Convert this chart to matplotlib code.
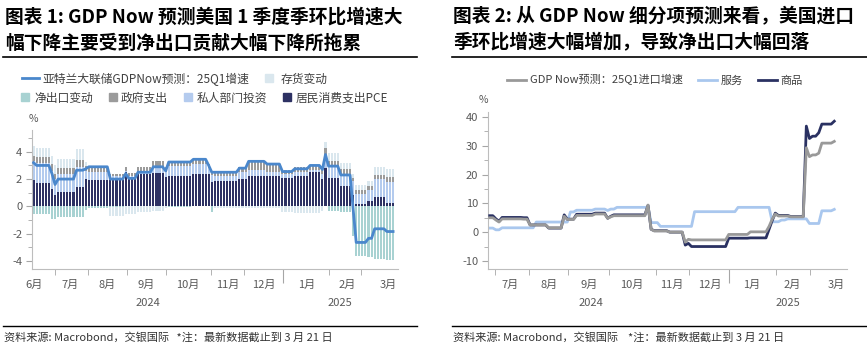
import matplotlib
matplotlib.use("Agg")
import matplotlib.pyplot as plt
from matplotlib.lines import Line2D
import numpy as np

plt.rcParams["font.family"] = ["Noto Sans CJK SC", "DejaVu Sans"]
plt.rcParams["axes.unicode_minus"] = False

# ---- 图表1：GDPNow 分项贡献（按更新段落，seg_len 为每段柱数）----
seg_len = [1, 5, 1, 1, 6, 3, 1, 7, 5, 1, 3, 5, 4, 1, 8, 5, 1, 1, 8, 3, 6, 5, 4, 5, 4, 1, 1, 4, 4, 1, 4, 2, 4, 3]
pce = [1.9, 1.7, 1.25, 0.8, 1.05, 1.45, 2.0, 1.95, 1.95, 2.5, 2.0, 2.4, 2.45, 2.15, 2.2, 2.4, 2.4, 1.8, 1.85, 2.0,
       2.2, 2.2, 2.1, 2.25, 2.55, 2.0, 2.8, 2.05, 1.5, 0.85, 0.15, 0.4, 0.7, 0.25]
priv = [1.4, 1.5, 1.35, 1.2, 1.3, 1.45, 0.6, 0.55, 0.25, 0.1, 0.2, 0.15, 0.5, 0.4, 0.75, 0.7, 0.4, 0.5, 0.35, 0.5,
        0.5, 0.35, 0.25, 0.3, 0.15, 0.35, 0.7, 0.9, 0.85, 1.0, 0.75, 0.8, 1.3, 1.55]
gov = [0.4, 0.4, 0.5, 0.4, 0.45, 0.5, 0.35, 0.35, 0.2, 0.3, 0.25, 0.35, 0.35, 0.3, 0.35, 0.4, 0.3, 0.3, 0.4, 0.35,
       0.6, 0.55, 0.3, 0.35, 0.35, 0.3, 0.8, 0.4, 0.4, 0.25, 0.3, 0.3, 0.3, 0.35]
netex = [-0.55, -0.55, -0.95, -0.95, -0.8, -0.75, -0.3, -0.1, -0.05, 0, 0, 0, 0, 0, -0.05, 0, 0, -0.45, 0, 0,
         0, 0, 0, 0, 0, 0, 0, -0.35, -0.4, -2.2, -3.65, -3.7, -3.9, -3.95]
inv = [0.7, 0.7, 0.6, 0.6, 0.7, 0.8, 0.3, 0.0, -0.65, -0.6, -0.6, -0.45, -0.35, -0.1, 0, 0, 0, 0, -0.15, -0.1,
       -0.1, -0.15, -0.4, -0.5, -0.5, -0.35, 0.4, 0.55, 0.4, 0.3, 0.35, 0.35, 0.6, 0.6]
gdpnow = [3.2, 3.0, 2.4, 1.6, 2.0, 2.65, 2.75, 2.9, 2.0, 2.4, 2.05, 2.5, 2.9, 2.6, 3.25, 3.45, 3.0, 2.5, 2.5, 2.8,
          3.3, 3.1, 2.55, 2.75, 3.0, 2.7, 3.8, 2.95, 2.3, -0.2, -2.65, -2.35, -1.65, -1.85]
months1 = ["6月", "7月", "8月", "9月", "10月", "11月", "12月", "1月", "2月", "3月"]

# ---- 图表2：进口增速（值, 连续期数）----
goods_val = [5.7, 4.6, 3.8, 5.1, 5.0, 2.5, 1.4, 6.0, 4.5, 6.2, 6.6, 4.8, 5.5, 6.0, 9.3, 1.0, 0.5, 0.0, -4.5, -3.9,
             -5.0, -2.1, -2.0, 1.0, 4.0, 6.6, 5.8, 5.4, 36.8, 32.5, 33.3, 34.5, 37.5, 38.5]
goods_len = [2, 1, 1, 7, 2, 6, 5, 1, 3, 6, 4, 1, 1, 11, 1, 1, 5, 5, 1, 1, 12, 7, 6, 1, 1, 1, 4, 5, 1, 1, 2, 1, 4, 1]
total_val = [5.0, 4.2, 3.5, 4.6, 4.5, 2.5, 1.5, 5.5, 4.4, 5.8, 6.3, 4.8, 5.3, 5.7, 9.4, 1.0, 0.4, 0.0, -3.5, -2.5,
             -2.7, -0.8, 0.1, 2.0, 4.5, 6.3, 5.6, 5.3, 29.3, 26.2, 26.8, 27.4, 30.9, 31.5]
total_len = goods_len
serv_val = [1.4, 0.8, 1.5, 3.5, 7.0, 7.6, 8.0, 7.5, 8.0, 8.6, 3.3, 2.0, 7.1, 8.6, 3.6, 4.2, 4.6, 3.0, 7.4, 7.9]
serv_len = [2, 2, 11, 11, 2, 6, 4, 1, 2, 11, 3, 11, 14, 11, 3, 2, 7, 4, 4, 1]
months2 = ["7月", "8月", "9月", "10月", "11月", "12月", "1月", "2月", "3月"]
years = ["2024", "2025"]

NAVY, LBLUE, GREY, TEAL, PALE, LINE = "#2d3163", "#b4cbee", "#9b9b9b", "#a8d2d2", "#dae7ee", "#4a87cc"
TXT = "#595959"

fig = plt.figure(figsize=(8.67, 3.62), dpi=100)
W, H = 867, 362


def fx(px): return px / W
def fy(py): return 1 - py / H


def style_axis(ax):
    for s in ["top", "right"]:
        ax.spines[s].set_visible(False)
    for s in ["left", "bottom"]:
        ax.spines[s].set_color("#bdbdbd")
        ax.spines[s].set_linewidth(0.8)
    ax.tick_params(axis="y", which="major", length=4, color="#a6a6a6", labelsize=8, labelcolor=TXT, pad=3)
    ax.tick_params(axis="y", which="minor", length=3, color="#a6a6a6")
    ax.tick_params(axis="x", which="minor", length=4, color="#a6a6a6", labelbottom=False)
    ax.tick_params(axis="x", which="major", length=10, color="#a6a6a6", labelbottom=False)


def month_labels(ax, pos, labels, ypos, yl):
    for p, m in zip(pos, labels):
        ax.annotate(m, (p, 0), xycoords=("data", "axes fraction"), xytext=(0, -11.5), textcoords="offset points",
                    ha="center", va="center", fontsize=8, color=TXT)
    for p, y in zip(ypos, yl):
        ax.annotate(y, (p, 0), xycoords=("data", "axes fraction"), xytext=(0, -24.5), textcoords="offset points",
                    ha="center", va="center", fontsize=8, color=TXT)


def fix_legend(leg):
    for t in leg.get_texts():
        t.set_color("#404040")


# ================= 左图 =================
ax1 = fig.add_axes([fx(32), fy(269), fx(398) - fx(32), fy(130) - fy(269)])
comps = [np.repeat(c, seg_len) for c in (pce, priv, gov, netex, inv)]
cols = [NAVY, LBLUE, GREY, TEAL, PALE]
x1 = np.arange(len(comps[0]))
pos_b = np.zeros(len(x1))
neg_b = np.zeros(len(x1))
for v, c in zip(comps, cols):
    b = np.where(v >= 0, pos_b, neg_b)
    ax1.bar(x1, v, bottom=b, width=0.68, color=c, linewidth=0, zorder=2)
    pos_b = pos_b + np.where(v > 0, v, 0)
    neg_b = neg_b + np.where(v < 0, v, 0)
ax1.plot(x1, np.repeat(gdpnow, seg_len), color=LINE, lw=2.0, zorder=3)
ax1.set_xlim(-0.5, 118.6)
ax1.set_ylim(-4.6, 5.6)
ax1.set_yticks([-4, -2, 0, 2, 4])
ax1.set_yticks([-3, -1, 1, 3, 5], minor=True)
ax1.set_xticks([81.3])
ax1.set_xticks([6.9, 17.8, 30.4, 43.1, 57.8, 68.6, 96.1, 106.7], minor=True)
style_axis(ax1)
month_labels(ax1, [0.1, 12, 24, 36.7, 50.3, 63.3, 75, 89, 102, 115.3], months1, [37.3, 99.7], years)
fig.text(fx(29), fy(119), "%", fontsize=7.5, color=TXT, va="center")

h_row1 = [Line2D([], [], color=LINE, lw=2),
          Line2D([], [], marker="s", ls="none", ms=6, color=PALE)]
leg1 = fig.legend(h_row1, ["亚特兰大联储GDPNow预测：25Q1增速", "存货变动"], loc="center left",
                  bbox_to_anchor=(fx(22), fy(79)), ncol=2, frameon=False, fontsize=8.5, handlelength=1.45,
                  handletextpad=0.25, columnspacing=1.0, borderaxespad=0, borderpad=0)
fix_legend(leg1)
h_row2 = [Line2D([], [], marker="s", ls="none", ms=6, color=c) for c in (TEAL, GREY, LBLUE, NAVY)]
leg2 = fig.legend(h_row2, ["净出口变动", "政府支出", "私人部门投资", "居民消费支出PCE"], loc="center left",
                  bbox_to_anchor=(fx(21), fy(98)), ncol=4, frameon=False, fontsize=8.5, handlelength=0.75,
                  handletextpad=0.35, columnspacing=1.3, borderaxespad=0, borderpad=0)
fix_legend(leg2)

# ================= 右图 =================
ax2 = fig.add_axes([fx(488), fy(269), fx(847) - fx(488), fy(112) - fy(269)])
serv = np.repeat(serv_val, serv_len)
goods = np.repeat(goods_val, goods_len)
total = np.repeat(total_val, total_len)
x2 = np.arange(len(goods))
ax2.plot(x2, serv, color="#a9c7ee", lw=2.0, zorder=2)
ax2.plot(x2, goods, color="#2a3162", lw=2.0, zorder=3)
ax2.plot(x2, total, color="#999999", lw=2.0, zorder=4)
ax2.set_xlim(-0.55, 115.1)
ax2.set_ylim(-12.8, 41.7)
ax2.set_yticks([-10, 0, 10, 20, 30, 40])
ax2.set_yticks([-5, 5, 15, 25, 35], minor=True)
ax2.set_xticks([77.2])
ax2.set_xticks([1.6, 12.6, 25.3, 38.5, 53.5, 64.3, 92.3, 103.2], minor=True)
style_axis(ax2)
month_labels(ax2, [6.7, 19, 32, 45.7, 58.6, 71, 84.5, 97.4, 111.5], months2, [32.5, 96], years)
fig.text(fx(479), fy(100), "%", fontsize=7.5, color=TXT, va="center")

h3 = [Line2D([], [], color=c, lw=2) for c in ("#999999", "#a9c7ee", "#2a3162")]
leg3 = fig.legend(h3, ["GDP Now预测：25Q1进口增速", "服务", "商品"], loc="center",
                  bbox_to_anchor=(fx(655), fy(80)), ncol=3, frameon=False, fontsize=8, handlelength=1.7,
                  handletextpad=0.3, columnspacing=1.4, borderaxespad=0, borderpad=0)
fix_legend(leg3)

# ================= 标题 / 注释 =================
fig.text(fx(5), fy(17), "图表 1: GDP Now 预测美国 1 季度季环比增速大", fontsize=13.5, fontweight="bold",
         va="center", ha="left")
fig.text(fx(5), fy(43), "幅下降主要受到净出口贡献大幅下降所拖累", fontsize=13.5, fontweight="bold",
         va="center", ha="left")
fig.text(fx(453), fy(17), "图表 2: 从 GDP Now 细分项预测来看，美国进口", fontsize=13.5, fontweight="bold",
         va="center", ha="left")
fig.text(fx(453), fy(43), "季环比增速大幅增加，导致净出口大幅回落", fontsize=13.5, fontweight="bold",
         va="center", ha="left")

for x0, x1_ in [(3, 417), (452, 867)]:
    fig.add_artist(Line2D([fx(x0), fx(x1_)], [fy(57), fy(57)], color="black", lw=1.2))
    fig.add_artist(Line2D([fx(x0), fx(x1_)], [fy(326), fy(326)], color="black", lw=1.0))

fig.text(fx(4), fy(337), "资料来源: Macrobond，交银国际   *注：最新数据截止到 3 月 21 日", fontsize=8,
         style="italic", color="#333333", va="center")
fig.text(fx(453), fy(337), "资料来源: Macrobond，交银国际    *注：最新数据截止到 3 月 21 日", fontsize=8,
         style="italic", color="#333333", va="center")

fig.savefig("out.png", dpi=100)
